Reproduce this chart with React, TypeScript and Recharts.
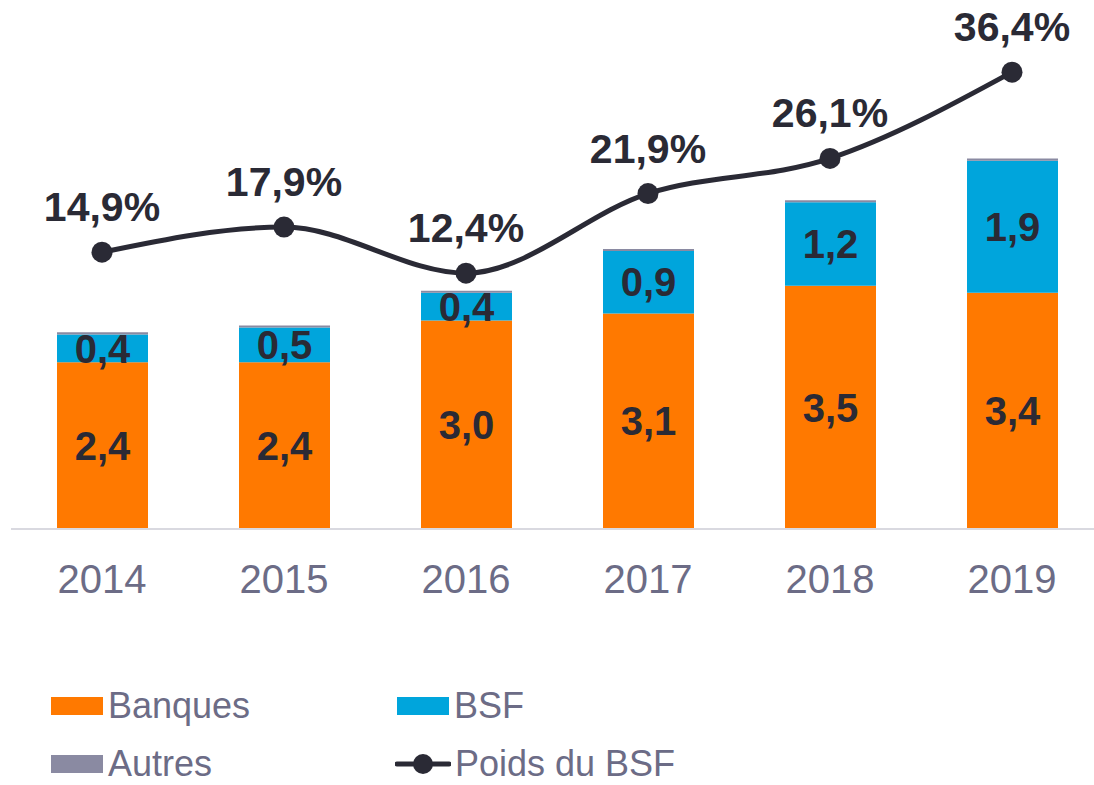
import React from 'react';
import {
  ComposedChart,
  Bar,
  Line,
  XAxis,
  YAxis,
  LabelList,
} from 'recharts';

const years = ['2014', '2015', '2016', '2017', '2018', '2019'];
const banques = [2.4, 2.4, 3.0, 3.1, 3.5, 3.4];
const bsf = [0.4, 0.5, 0.4, 0.9, 1.2, 1.9];
const autres = [0.03, 0.03, 0.03, 0.03, 0.03, 0.03];
const poidsBsf = [14.9, 17.9, 12.4, 21.9, 26.1, 36.4];

const ORANGE = '#ff7900';
const BLUE = '#00a5dc';
const GREY = '#8a8aa2';
const DARK = '#2a2a35';
const TEXT_GREY = '#6c6c86';
const FONT = '"Liberation Sans", Arial, sans-serif';

const legendItems = [
  { name: 'Banques', color: ORANGE, type: 'square', left: 51, top: 697 },
  { name: 'BSF', color: BLUE, type: 'square', left: 397, top: 697 },
  { name: 'Autres', color: GREY, type: 'square', left: 51, top: 755 },
  { name: 'Poids du BSF', color: DARK, type: 'line', left: 395, top: 755 },
];

const data = years.map((year, i) => ({
  year,
  banques: banques[i],
  bsf: bsf[i],
  autres: autres[i],
  poids: poidsBsf[i],
}));

const fmt = (v: number) => v.toFixed(1).replace('.', ',');

function Legend() {
  return (
    <>
      {legendItems.map((item) => (
        <div
          key={item.name}
          style={{
            position: 'absolute',
            left: item.left,
            top: item.top - 6,
            height: 30,
            lineHeight: '30px',
            display: 'flex',
            alignItems: 'center',
            fontFamily: FONT,
            fontSize: 36,
            color: TEXT_GREY,
            whiteSpace: 'nowrap',
          }}
        >
          {item.type === 'square' ? (
            <span
              style={{
                display: 'inline-block',
                width: 52,
                height: 18,
                background: item.color,
                marginRight: 5,
              }}
            />
          ) : (
            <svg width={56} height={22} style={{ marginRight: 4 }}>
              <line x1={2} y1={11} x2={54} y2={11} stroke={item.color} strokeWidth={5} strokeLinecap="round" />
              <circle cx={28} cy={11} r={10} fill={item.color} />
            </svg>
          )}
          <span>{item.name}</span>
        </div>
      ))}
    </>
  );
}

export default function App() {
  return (
    <div
      style={{
        position: 'absolute',
        left: 0,
        top: 0,
        width: 1094,
        height: 785,
        overflow: 'hidden',
        background: '#fff',
      }}
    >
      <ComposedChart
        width={1110}
        height={785}
        data={data}
        margin={{ top: 46, right: 7, left: 11, bottom: 0 }}
      >
        <XAxis
          dataKey="year"
          height={256}
          tickLine={false}
          tickMargin={30}
          axisLine={{ stroke: '#d9d9e0', strokeWidth: 2 }}
          tick={{ fill: TEXT_GREY, fontSize: 40, fontFamily: FONT }}
        />
        <YAxis yAxisId="left" hide domain={[0, 6.95]} />
        <YAxis yAxisId="right" hide orientation="right" domain={[-18.15, 39.52]} />
        <Bar yAxisId="left" dataKey="banques" stackId="a" fill={ORANGE} barSize={91} isAnimationActive={false}>
          <LabelList
            dataKey="banques"
            position="center"
            formatter={(v: any) => fmt(Number(v))}
            style={{ fill: DARK, fontSize: 40, fontWeight: 700, fontFamily: FONT }}
          />
        </Bar>
        <Bar yAxisId="left" dataKey="bsf" stackId="a" fill={BLUE} barSize={91} isAnimationActive={false}>
          <LabelList
            dataKey="bsf"
            position="center"
            formatter={(v: any) => fmt(Number(v))}
            style={{ fill: DARK, fontSize: 40, fontWeight: 700, fontFamily: FONT }}
          />
        </Bar>
        <Bar yAxisId="left" dataKey="autres" stackId="a" fill={GREY} barSize={91} isAnimationActive={false} />
        <Line
          yAxisId="right"
          dataKey="poids"
          type="monotone"
          stroke={DARK}
          strokeWidth={5}
          dot={{ r: 10.5, fill: DARK, stroke: DARK, strokeWidth: 0 }}
          activeDot={false}
          isAnimationActive={false}
        >
          <LabelList
            dataKey="poids"
            position="top"
            offset={31}
            formatter={(v: any) => fmt(Number(v)) + '%'}
            style={{ fill: DARK, fontSize: 41, fontWeight: 700, fontFamily: FONT }}
          />
        </Line>
      </ComposedChart>
      <Legend />
    </div>
  );
}
